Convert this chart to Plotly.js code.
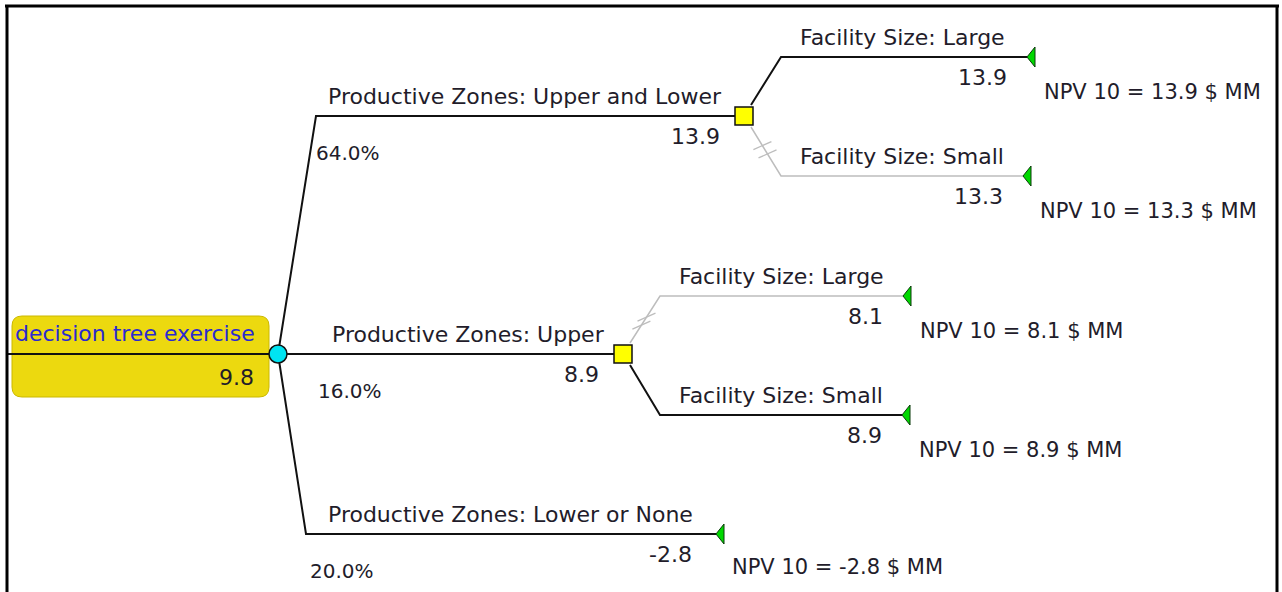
<!DOCTYPE html>
<html>
<head>
<meta charset="utf-8">
<script src="https://cdn.plot.ly/plotly-3.0.1.min.js"></script>
<style>html,body{margin:0;padding:0;background:#fff;}#chart{width:1282px;height:592px;}</style>
</head>
<body>
<div id="chart"></div>
<script>
// ---------- DATA ----------
const rootName = 'decision tree exercise';
const rootValue = 9.8;
const zoneLabels = ['Productive Zones: Upper and Lower', 'Productive Zones: Upper', 'Productive Zones: Lower or None'];
const zoneProbs = ['64.0%', '16.0%', '20.0%'];
const zoneValues = [13.9, 8.9, -2.8];
const facilityLabels = ['Facility Size: Large', 'Facility Size: Small'];
const facilityValues = [[13.9, 13.3], [8.1, 8.9]];   // per decision node (zone 0, zone 1)
const facilityChosen = [0, 1];                        // chosen option index per decision
const payoffUnit = ' $ MM';
const payoffPrefix = 'NPV 10 = ';

// ---------- LAYOUT (pixel geometry of the tree) ----------
const root = {x: 278, y: 354};
const zoneGeom = [
  {xc: 316, yc: 116, xe: 744, lx: 326, px: 314},
  {xc: 278, yc: 354, xe: 623, lx: 330, px: 316},
  {xc: 306, yc: 534, xe: 716, lx: 326, px: 308}
];
const facGeom = [
  [{xc: 781, yc: 57, xe: 1027}, {xc: 781, yc: 176, xe: 1023}],
  [{xc: 660, yc: 296, xe: 903}, {xc: 660, yc: 415, xe: 902}]
];
const FONT = 'DejaVu Sans, Verdana, sans-serif';
const FS_LABEL = 22, FS_VAL = 22, FS_PROB = 20, FS_PAY = 21;
const TXT = '#221c2a';
const BLACK = '#111111';
const GRAY = '#bdbdbd';

const traces = [];
const annotations = [];
function seg(xs, ys, color, w) {
  traces.push({type: 'scatter', mode: 'lines', x: xs, y: ys, line: {color: color, width: w},
    hoverinfo: 'skip', showlegend: false});
}
function txt(x, y, s, anchor, size, color) {
  annotations.push({x: x, y: y, xref: 'x', yref: 'y', text: s, showarrow: false,
    xanchor: anchor, yanchor: 'middle', font: {family: FONT, size: size, color: color || TXT}});
}
function tri(x, y) {
  traces.push({type: 'scatter', mode: 'lines', x: [x, x + 8, x + 8, x], y: [y, y - 10, y + 10, y],
    fill: 'toself', fillcolor: '#00d800', line: {color: '#0a3a0a', width: 1},
    hoverinfo: 'skip', showlegend: false});
}
function hash(x0, y0, x1, y1) {
  const xs = [], ys = [];
  [0.38, 0.55].forEach(t => {
    const mx = x0 + (x1 - x0) * t, my = y0 + (y1 - y0) * t;
    xs.push(mx - 9, mx + 9, null); ys.push(my + 4, my - 4, null);
  });
  seg(xs, ys, GRAY, 1.3);
}

// root stem
seg([8, root.x], [root.y, root.y], BLACK, 2);

// zone branches
zoneLabels.forEach((lab, i) => {
  const g = zoneGeom[i];
  seg([root.x, g.xc, g.xe], [root.y, g.yc, g.yc], BLACK, 2);
  txt(g.lx, g.yc - 20, lab, 'left', FS_LABEL);
  txt(g.xe - 22, g.yc + 20, zoneValues[i].toFixed(1), 'right', FS_VAL);
  txt(g.px, g.yc + 37, zoneProbs[i], 'left', FS_PROB);
});

// facility branches under decision nodes
facilityValues.forEach((vals, d) => {
  const z = zoneGeom[d];
  vals.forEach((v, j) => {
    const g = facGeom[d][j];
    const chosen = facilityChosen[d] === j;
    const col = chosen ? BLACK : GRAY;
    const sy = z.yc + (g.yc < z.yc ? -11 : 11);
    seg([z.xe + 7, g.xc, g.xe], [sy, g.yc, g.yc], col, chosen ? 2 : 1.5);
    if (!chosen) hash(z.xe + 7, sy, g.xc, g.yc);
    txt(g.xc + 17, g.yc - 20, facilityLabels[j], 'left', FS_LABEL);
    txt(g.xe - 18, g.yc + 20, v.toFixed(1), 'right', FS_VAL);
    txt(g.xe + 15, g.yc + 35, payoffPrefix + v.toFixed(1) + payoffUnit, 'left', FS_PAY);
    tri(g.xe, g.yc);
  });
});

// terminal for zone 3
{
  const g = zoneGeom[2];
  txt(g.xe + 14, g.yc + 33, payoffPrefix + zoneValues[2].toFixed(1) + payoffUnit, 'left', FS_PAY);
  tri(g.xe, g.yc);
}

// decision squares
traces.push({type: 'scatter', mode: 'markers', x: [zoneGeom[0].xe, zoneGeom[1].xe], y: [zoneGeom[0].yc, zoneGeom[1].yc],
  marker: {symbol: 'square', size: 18, color: '#ffff00', line: {color: '#111', width: 1.5}},
  hoverinfo: 'skip', showlegend: false});
// chance node
traces.push({type: 'scatter', mode: 'markers', x: [root.x], y: [root.y],
  marker: {symbol: 'circle', size: 18, color: '#00e4f2', line: {color: '#111', width: 1.5}},
  hoverinfo: 'skip', showlegend: false});

// root label
txt(13, 333, rootName, 'left', 22, '#2a2ad0');
txt(256, 377, rootValue.toFixed(1), 'right', FS_VAL);

// rounded yellow box for root
const bx0 = 12, bx1 = 269, by0 = 316, by1 = 397, r = 10;
const boxPath = `M ${bx0 + r},${by0} L ${bx1 - r},${by0} Q ${bx1},${by0} ${bx1},${by0 + r} L ${bx1},${by1 - r} Q ${bx1},${by1} ${bx1 - r},${by1} L ${bx0 + r},${by1} Q ${bx0},${by1} ${bx0},${by1 - r} L ${bx0},${by0 + r} Q ${bx0},${by0} ${bx0 + r},${by0} Z`;

const shapes = [
  {type: 'path', xref: 'x', yref: 'y', path: boxPath, fillcolor: '#ecd90f', line: {color: '#cbb800', width: 1}, layer: 'below'},
  {type: 'line', xref: 'x', yref: 'y', x0: 5, x1: 1279, y0: 6, y1: 6, line: {color: '#000', width: 3}},
  {type: 'line', xref: 'x', yref: 'y', x0: 7, x1: 7, y0: 5, y1: 592, line: {color: '#000', width: 3}},
  {type: 'line', xref: 'x', yref: 'y', x0: 1277, x1: 1277, y0: 5, y1: 592, line: {color: '#000', width: 3}}
];

const layout = {
  width: 1282, height: 592,
  margin: {l: 0, r: 0, t: 0, b: 0},
  paper_bgcolor: '#ffffff', plot_bgcolor: '#ffffff',
  xaxis: {range: [0, 1282], visible: false, fixedrange: true},
  yaxis: {range: [592, 0], visible: false, fixedrange: true},
  showlegend: false,
  shapes: shapes,
  annotations: annotations
};
Plotly.newPlot('chart', traces, layout, {staticPlot: true, displayModeBar: false});
</script>
</body>
</html>
